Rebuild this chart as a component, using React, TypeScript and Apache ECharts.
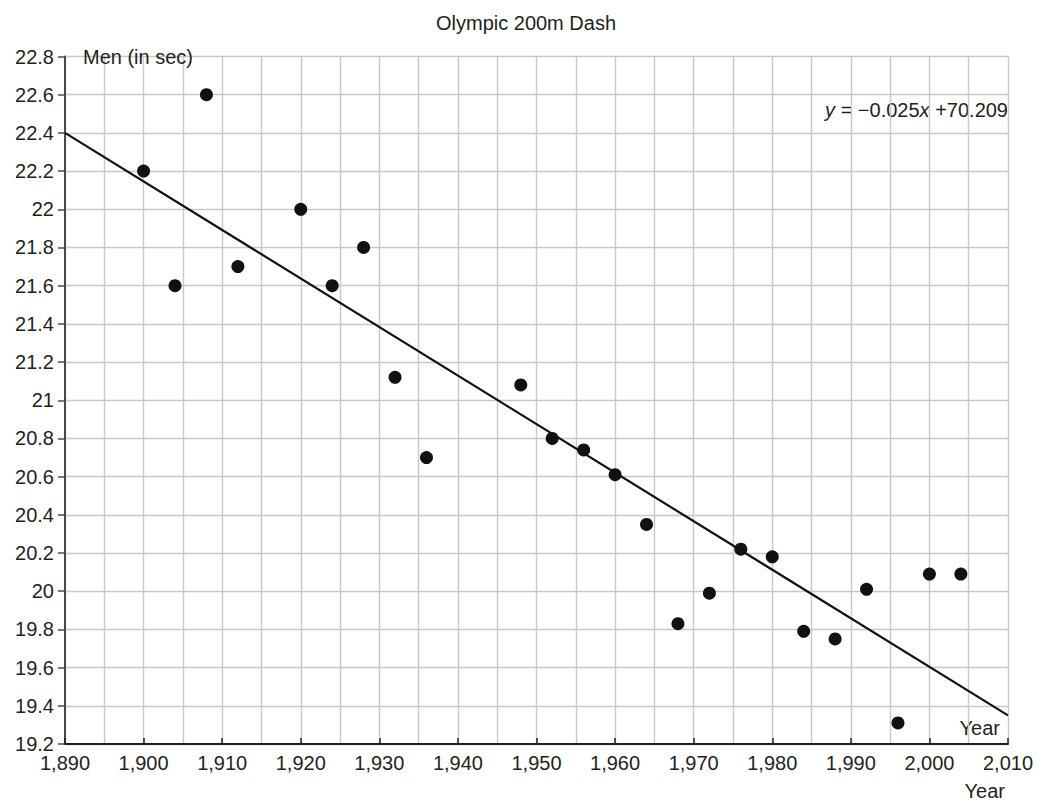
import React, { useEffect, useRef } from "react";
import * as echarts from "echarts";

const years = [1900, 1904, 1908, 1912, 1920, 1924, 1928, 1932, 1936, 1948, 1952, 1956, 1960, 1964, 1968, 1972, 1976, 1980, 1984, 1988, 1992, 1996, 2000, 2004];
const times = [22.2, 21.6, 22.6, 21.7, 22.0, 21.6, 21.8, 21.12, 20.7, 21.08, 20.8, 20.74, 20.61, 20.35, 19.83, 19.99, 20.22, 20.18, 19.79, 19.75, 20.01, 19.31, 20.09, 20.09];
const trendYears = [1890, 2010];
const trendValues = [22.4, 19.35];

const FONT = "'Liberation Sans', Arial, Helvetica, sans-serif";
const TXT = "#231f20";

export default function App() {
  const ref = useRef<HTMLDivElement>(null);
  useEffect(() => {
    document.body.style.margin = "0";
    const chart = echarts.init(ref.current!, null, { renderer: "svg" });
    const grid = { left: 65, right: 29, top: 56.5, bottom: 62 };
    chart.setOption({
      animation: false,
      backgroundColor: "#ffffff",
      textStyle: { fontFamily: FONT },
      title: {
        text: "Olympic 200m Dash",
        left: 521,
        textAlign: "center",
        top: 8,
        textStyle: { fontFamily: FONT, fontSize: 20, fontWeight: "normal", color: TXT },
      },
      grid,
      xAxis: {
        type: "value",
        min: 1890,
        max: 2010,
        interval: 10,
        axisLine: { show: true, onZero: false, lineStyle: { color: "#231f20", width: 2 } },
        axisTick: { show: true, inside: true, length: 6, lineStyle: { color: "#231f20", width: 1.5 } },
        axisLabel: {
          fontSize: 20,
          color: TXT,
          margin: 9,
          fontFamily: FONT,
          formatter: (v: number) => Math.round(v).toLocaleString("en-US"),
        },
        splitLine: { show: true, lineStyle: { color: "#c8c8c8", width: 1.4 } },
        minorTick: { show: false, splitNumber: 2 },
        minorSplitLine: { show: true, lineStyle: { color: "#c8c8c8", width: 1.4 } },
      },
      yAxis: {
        type: "value",
        min: 19.2,
        max: 22.8,
        interval: 0.2,
        name: "Men (in sec)",
        nameLocation: "end",
        nameGap: 0,
        nameTextStyle: {
          fontSize: 20,
          color: TXT,
          fontFamily: FONT,
          align: "left",
          verticalAlign: "middle",
          padding: [0, 0, 0, 18],
        },
        axisLine: { show: true, onZero: false, lineStyle: { color: "#4a4a4a", width: 2 } },
        axisTick: { show: true, inside: false, length: 7, lineStyle: { color: "#4a4a4a", width: 1.5 } },
        axisLabel: {
          fontSize: 20,
          color: TXT,
          margin: 11,
          fontFamily: FONT,
          formatter: (v: number) => String(Math.round(v * 10) / 10),
        },
        splitLine: { show: true, lineStyle: { color: "#c8c8c8", width: 1.4 } },
      },
      graphic: [
        {
          type: "text",
          right: 29,
          top: 100,
          style: {
            text: "{i|y} = −0.025{i|x} +70.209",
            fontSize: 20,
            fontFamily: FONT,
            fill: TXT,
            rich: {
              i: { fontStyle: "italic", fontSize: 20, fontFamily: FONT, fill: TXT },
            },
          },
        },
        {
          type: "text",
          right: 37,
          top: 718,
          style: { text: "Year", fontSize: 20, fontFamily: FONT, fill: TXT },
        },
        {
          type: "text",
          right: 32,
          top: 781,
          style: { text: "Year", fontSize: 20, fontFamily: FONT, fill: TXT },
        },
      ],
      series: [
        {
          type: "line",
          data: trendYears.map((y, i) => [y, trendValues[i]]),
          showSymbol: false,
          symbol: "none",
          lineStyle: { color: "#111111", width: 2.2 },
          z: 3,
        },
        {
          type: "scatter",
          data: years.map((y, i) => [y, times[i]]),
          symbol: "circle",
          symbolSize: 13,
          itemStyle: { color: "#111111", opacity: 1 },
          z: 4,
        },
      ],
    });
    return () => chart.dispose();
  }, []);
  return <div ref={ref} style={{ width: 1037, height: 806 }} />;
}
